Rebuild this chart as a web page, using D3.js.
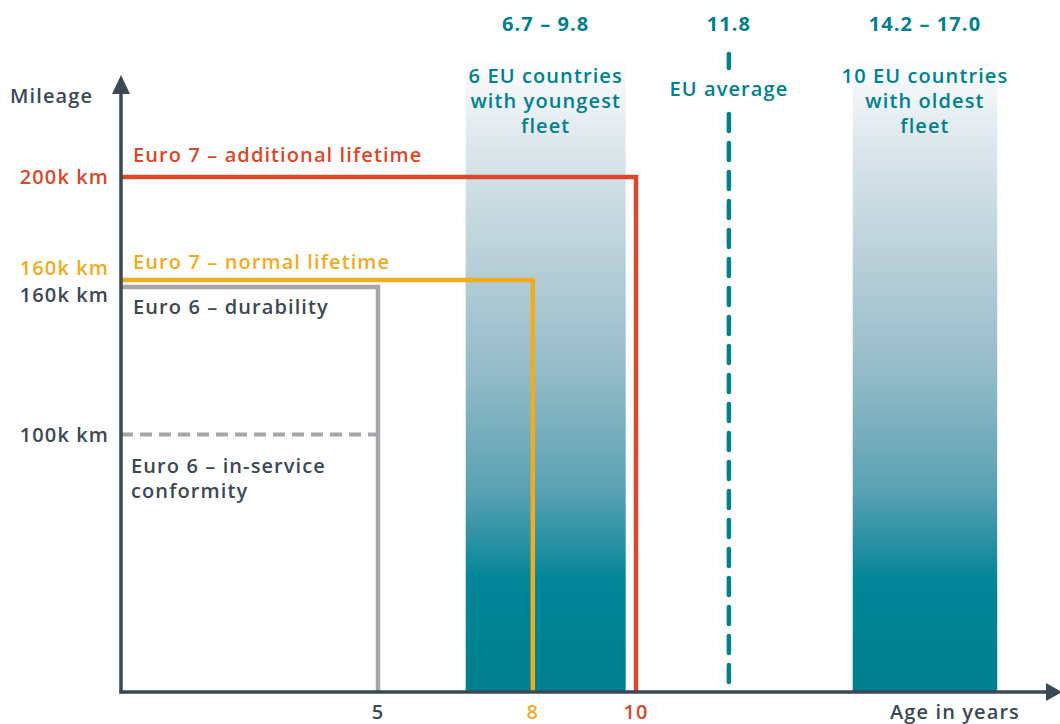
<!DOCTYPE html>
<html>
<head>
<meta charset="utf-8">
<script src="https://cdn.jsdelivr.net/npm/d3@7"></script>
<style>
  html, body { margin: 0; padding: 0; background: #fff; }
  svg { display: block; font-family: "Open Sans", "DejaVu Sans", sans-serif; font-weight: 600; letter-spacing: 1.1px; }
</style>
</head>
<body>
<svg id="chart" width="1060" height="724"></svg>
<script>
// Emission-limit lifetimes vs. vehicle age in the EU fleet
const limitNames   = ["Euro 7 – additional lifetime", "Euro 7 – normal lifetime", "Euro 6 – durability"];
const limitYears   = [10, 8, 5];
const limitMileage = [200, 160, 160];          // thousand km
const limitKeys    = ["e7add", "e7norm", "e6dur"];

const iscName    = ["Euro 6 – in-service", "conformity"];
const iscYears   = 5;
const iscMileage = 100;                         // thousand km

const bandRanges = [[6.7, 9.8], [14.2, 17.0]];   // average fleet age, years
const bandRangeLabels = ["6.7 – 9.8", "14.2 – 17.0"];
const bandNames  = [["6 EU countries", "with youngest", "fleet"],
                    ["10 EU countries", "with oldest", "fleet"]];
const euAverage  = 11.8;

const ageTicks      = [5, 8, 10];
const ageTickKeys   = ["e6dur", "e7norm", "e7add"];
const mileageTicks  = [200, 160, 160, 100];
const mileageKeys   = ["e7add", "e7norm", "e6dur", "isc"];

// styling
const colors = { e7add: "#d9482b", e7norm: "#f0ab1f", e6dur: "#a6a6aa", isc: "#a6a6aa", teal: "#00808f", axis: "#3c4853" };
const labelColors = { e7add: "#d9482b", e7norm: "#f0ab1f", e6dur: "#3c4853", isc: "#3c4853" };
const pixelNudge = { e7add: 0, e7norm: 0, e6dur: 7, isc: 0 };  // separates coincident 160k lines
const tickNudge  = { e7add: 0, e7norm: -12, e6dur: 15, isc: 0 };

const svg = d3.select("#chart");
const x = d3.scaleLinear().domain([0, 10]).range([120, 636]);
const y = d3.scaleLinear().domain([0, 200]).range([692, 177]);
const x0 = x(0) + 1, y0 = y(0);
const fs = 20;

// vertical gradient for fleet-age bands
const defs = svg.append("defs");
const grad = defs.append("linearGradient").attr("id", "bandGrad")
  .attr("x1", 0).attr("y1", 0).attr("x2", 0).attr("y2", 1);
[[0, "#fdfefe"], [0.12, "#e0e9ee"], [0.3, "#bcd2da"], [0.5, "#92bac7"], [0.68, "#5aa2b3"],
 [0.8, "#12899b"], [0.82, "#008698"], [1, "#007f8e"]]
  .forEach(([o, c]) => grad.append("stop").attr("offset", o).attr("stop-color", c));

const bandTop = 60;
svg.append("g").selectAll("rect").data(bandRanges).join("rect")
  .attr("x", d => x(d[0])).attr("width", d => x(d[1]) - x(d[0]))
  .attr("y", bandTop).attr("height", y0 - bandTop)
  .attr("fill", "url(#bandGrad)");

// band range labels (bold) and names
svg.append("g").selectAll("text").data(bandRanges).join("text")
  .attr("x", d => (x(d[0]) + x(d[1])) / 2).attr("y", 31)
  .attr("text-anchor", "middle").attr("font-size", fs).attr("font-weight", 700)
  .attr("fill", colors.teal).text((d, i) => bandRangeLabels[i]);

bandRanges.forEach((d, i) => {
  const cx = (x(d[0]) + x(d[1])) / 2;
  svg.append("g").selectAll("text").data(bandNames[i]).join("text")
    .attr("x", cx).attr("y", (t, j) => 83 + j * 25)
    .attr("text-anchor", "middle").attr("font-size", fs)
    .attr("fill", colors.teal).text(t => t);
});

// EU average dashed marker
const ax = x(euAverage);
svg.append("text").attr("x", ax).attr("y", 31).attr("text-anchor", "middle")
  .attr("font-size", fs).attr("font-weight", 700).attr("fill", colors.teal).text(euAverage.toFixed(1));
svg.append("text").attr("x", ax).attr("y", 96).attr("text-anchor", "middle")
  .attr("font-size", fs).attr("fill", colors.teal).text("EU average");
const dashStyle = sel => sel.attr("stroke", colors.teal).attr("stroke-width", 4.5)
  .attr("stroke-linecap", "round").attr("stroke-dasharray", "17 12");
svg.append("line").attr("x1", ax).attr("x2", ax).attr("y1", 54).attr("y2", 68).call(dashStyle);
svg.append("line").attr("x1", ax).attr("x2", ax).attr("y1", 114).attr("y2", y0).call(dashStyle);

// in-service conformity (dashed)
svg.append("line")
  .attr("x1", x0).attr("x2", x(iscYears) + 5)
  .attr("y1", y(iscMileage)).attr("y2", y(iscMileage))
  .attr("stroke", colors.isc).attr("stroke-width", 4).attr("stroke-dasharray", "12 7");

// lifetime limit lines (draw from smallest to largest so red is on top)
const order = [2, 1, 0];
svg.append("g").selectAll("path").data(order).join("path")
  .attr("d", i => {
    const yy = y(limitMileage[i]) + pixelNudge[limitKeys[i]];
    return `M${x0},${yy}H${x(limitYears[i])}V${y0}`;
  })
  .attr("fill", "none").attr("stroke", i => colors[limitKeys[i]])
  .attr("stroke-width", 4.5).attr("stroke-linejoin", "miter");

// limit labels
svg.append("g").selectAll("text").data([0, 1, 2]).join("text")
  .attr("x", 133)
  .attr("y", i => y(limitMileage[i]) + [-15, -11, 34][i])
  .attr("font-size", fs).attr("fill", i => labelColors[limitKeys[i]])
  .text(i => limitNames[i]);
svg.append("g").selectAll("text").data(iscName).join("text")
  .attr("x", 131).attr("y", (t, j) => y(iscMileage) + 38 + j * 25)
  .attr("font-size", fs).attr("fill", labelColors.isc).text(t => t);

// axes
svg.append("line").attr("x1", x0).attr("x2", x0).attr("y1", y0 + 1.5).attr("y2", 90)
  .attr("stroke", colors.axis).attr("stroke-width", 3.5);
svg.append("line").attr("x1", x0 - 1.5).attr("x2", 1050).attr("y1", y0).attr("y2", y0)
  .attr("stroke", colors.axis).attr("stroke-width", 3.5);
svg.append("path").attr("d", `M${x0},75L${x0 + 9},94L${x0 - 9},94Z`).attr("fill", colors.axis);
svg.append("path").attr("d", `M1062,${y0}L1046,${y0 - 9}L1046,${y0 + 9}Z`).attr("fill", colors.axis);

// y tick labels
svg.append("g").selectAll("text").data(mileageTicks).join("text")
  .attr("x", 109).attr("y", (d, i) => y(d) + 7 + tickNudge[mileageKeys[i]])
  .attr("text-anchor", "end").attr("font-size", fs)
  .attr("fill", (d, i) => labelColors[mileageKeys[i]])
  .text(d => d + "k km");

// x tick labels
svg.append("g").selectAll("text").data(ageTicks).join("text")
  .attr("x", d => x(d)).attr("y", 719).attr("text-anchor", "middle").attr("font-size", fs)
  .attr("fill", (d, i) => ageTickKeys[i] === "e6dur" ? colors.axis : colors[ageTickKeys[i]])
  .text(d => d);

// axis titles
svg.append("text").attr("x", 10).attr("y", 103).attr("font-size", fs).attr("fill", colors.axis).text("Mileage");
svg.append("text").attr("x", 955).attr("y", 719).attr("text-anchor", "middle").attr("font-size", fs)
  .attr("fill", colors.axis).text("Age in years");
</script>
</body>
</html>
